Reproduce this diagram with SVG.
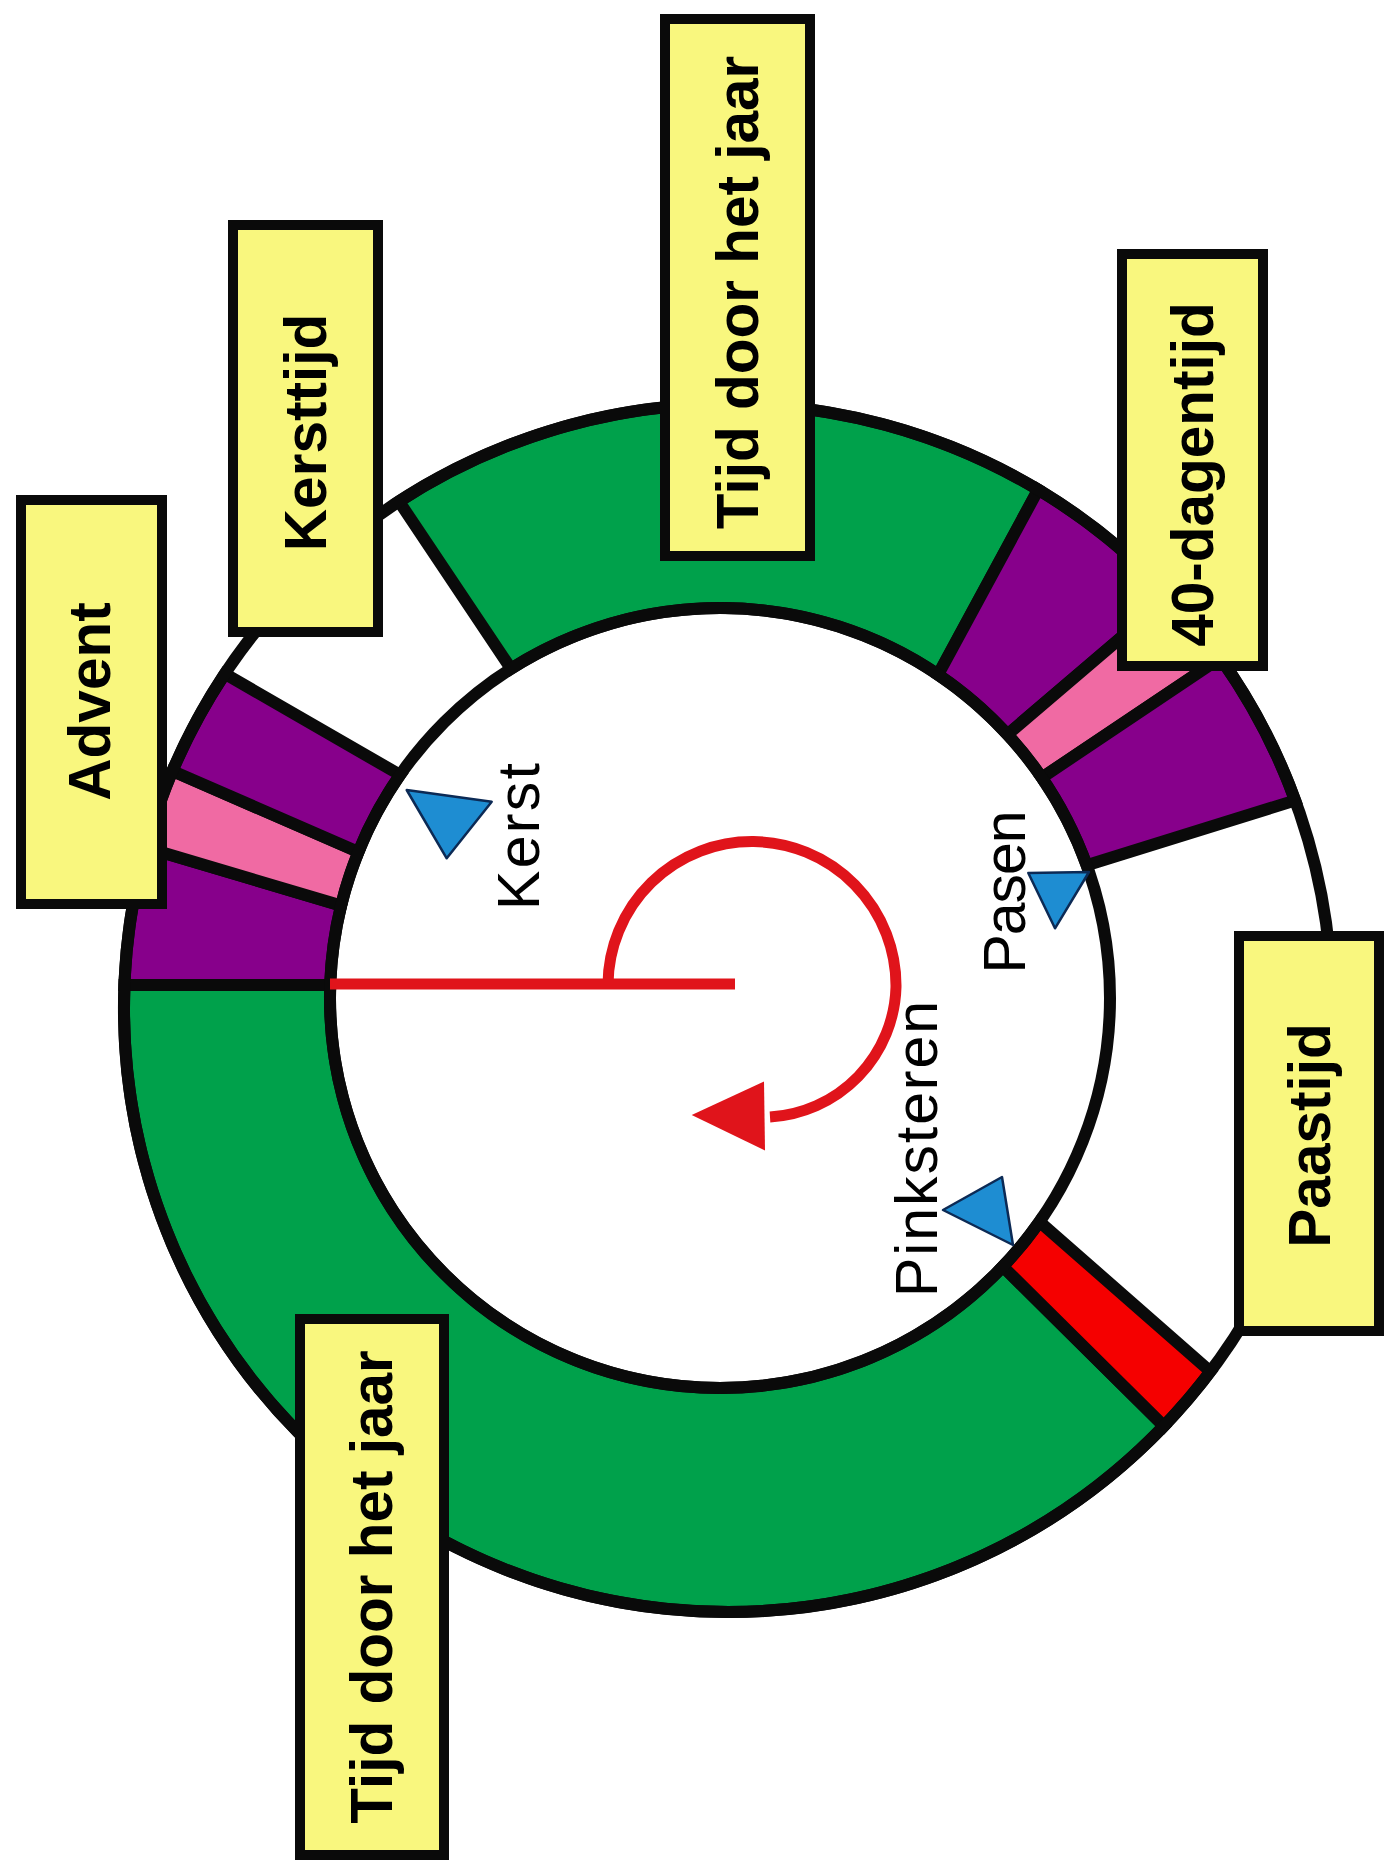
<svg xmlns="http://www.w3.org/2000/svg" width="1386" height="1865" viewBox="0 0 1386 1865">
<style>
.seg{stroke:#0a0a0a;stroke-width:12;stroke-linejoin:miter}
.green{fill:#00a14b}
.purple{fill:#87008b}
.pink{fill:#f06aa3}
.redseg{fill:#f50000}
.ring{fill:none;stroke:#0a0a0a;stroke-width:12}
.box{fill:#f9f77e;stroke:#0a0a0a;stroke-width:10}
.lbl{font-family:"Liberation Sans",Arial,sans-serif;font-weight:bold;font-size:58.5px;fill:#000;text-anchor:middle}
.in{font-weight:normal;font-size:59px}
.tri{fill:#1e8dd2;stroke:#0c2a55;stroke-width:2.5;stroke-linejoin:round}
.spiral{fill:none;stroke:#e0141b;stroke-width:11}
</style>
<rect width="1386" height="1865" fill="#ffffff"/>
<g id="ring">
  <path id="seg-tijd-bottom" class="seg green" d="M1163.9,1426.1 A604,604 0 0 1 124.4,985 L330.2,985 A390,390 0 0 0 1002.9,1266.5 Z"/>
  <path id="seg-advent-1" class="seg purple" d="M124.4,985 A604,604 0 0 1 145.7,847.6 L341.1,905.6 A390,390 0 0 0 330.2,985 Z"/>
  <path id="seg-advent-2" class="seg pink" d="M145.7,847.6 A604,604 0 0 1 172.4,771 L358.4,851.9 A390,390 0 0 0 341.1,905.6 Z"/>
  <path id="seg-advent-3" class="seg purple" d="M172.4,771 A604,604 0 0 1 224.9,673.8 L400.1,774.9 A390,390 0 0 0 358.4,851.9 Z"/>
  <path id="seg-tijd-top" class="seg green" d="M399,501.4 A604,604 0 0 1 1038.2,489.7 L938.1,674.7 A390,390 0 0 0 511,668.7 Z"/>
  <path id="seg-40-1" class="seg purple" d="M1038.2,489.7 A604,604 0 0 1 1169.7,596.1 L1007.5,734.5 A390,390 0 0 0 938.1,674.7 Z"/>
  <path id="seg-40-2" class="seg pink" d="M1169.7,596.1 A604,604 0 0 1 1220.3,658.1 L1041.8,777.7 A390,390 0 0 0 1007.5,734.5 Z"/>
  <path id="seg-40-3" class="seg purple" d="M1220.3,658.1 A604,604 0 0 1 1295.2,800.4 L1086.7,865.3 A390,390 0 0 0 1041.8,777.7 Z"/>
  <path id="seg-pinksteren" class="seg redseg" d="M1210.4,1371.5 A604,604 0 0 1 1163.9,1426.1 L1002.9,1266.5 A390,390 0 0 0 1039.5,1221.7 Z"/>
  <circle class="ring" cx="728" cy="1008" r="604"/>
  <circle class="ring" cx="720" cy="998" r="390"/>
</g>
<g id="connectors">
  <path class="spiral" d="M330,984 L735,984 M608,984 A144,144 0 0 1 896,987 A134,134 0 0 1 770,1117"/>
  <polygon points="691.7,1115 764,1081.5 765,1150.5" fill="#e0141b"/>
</g>
<g id="marker-kerst">
  <polygon class="tri" points="406.7,790 491.7,801.7 446.7,858.3"/>
  <text class="lbl in" transform="translate(539,836.5) rotate(-90)" textLength="147">Kerst</text>
</g>
<g id="marker-pasen">
  <polygon class="tri" points="1028.3,873 1089,872 1055,928.3"/>
  <text class="lbl in" transform="translate(1025,892) rotate(-90)" textLength="163">Pasen</text>
</g>
<g id="marker-pinksteren">
  <polygon class="tri" points="943,1210 1002,1177 1013,1245"/>
  <text class="lbl in" transform="translate(937,1149) rotate(-90)" textLength="296">Pinksteren</text>
</g>
<g id="label-advent">
  <rect class="box" x="21" y="500" width="141" height="404"/>
  <text class="lbl" transform="translate(110,701.5) rotate(-90)">Advent</text>
</g>
<g id="label-kersttijd">
  <rect class="box" x="233" y="225" width="145" height="407"/>
  <text class="lbl" transform="translate(326,432.5) rotate(-90)">Kersttijd</text>
</g>
<g id="label-tijd-top">
  <rect class="box" x="665" y="19" width="145" height="537"/>
  <text class="lbl" transform="translate(758,292.5) rotate(-90)">Tijd door het jaar</text>
</g>
<g id="label-40-dagentijd">
  <rect class="box" x="1122" y="254" width="141" height="412"/>
  <text class="lbl" transform="translate(1213,474.5) rotate(-90)">40-dagentijd</text>
</g>
<g id="label-paastijd">
  <rect class="box" x="1239" y="936" width="140" height="395"/>
  <text class="lbl" transform="translate(1330,1135.5) rotate(-90)">Paastijd</text>
</g>
<g id="label-tijd-bottom">
  <rect class="box" x="300" y="1319" width="144" height="536"/>
  <text class="lbl" transform="translate(392,1587) rotate(-90)">Tijd door het jaar</text>
</g>
</svg>
